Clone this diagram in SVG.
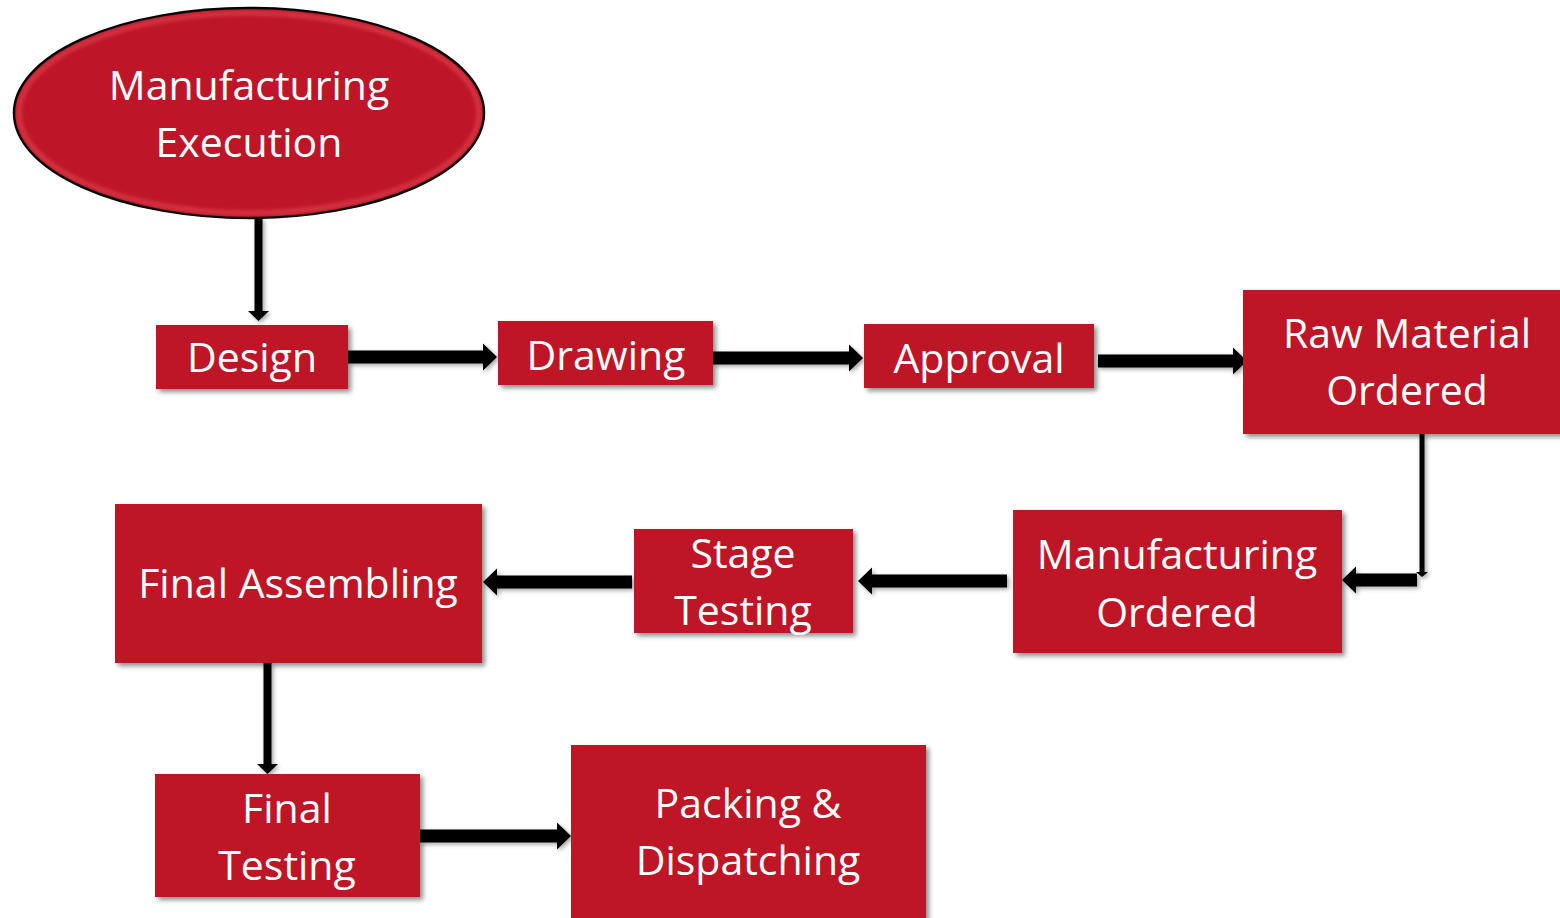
<svg xmlns="http://www.w3.org/2000/svg" width="1560" height="918" viewBox="0 0 1560 918">
<style>
.box{fill:#BE1628;filter:url(#sh);}
.t{font-family:"Open Sans","Noto Sans",sans-serif;font-size:41px;fill:#fff;text-anchor:middle;}
.thick{stroke:#000;stroke-width:13;fill:none;marker-end:url(#big);}
.vert{stroke:#000;stroke-width:8;fill:none;marker-end:url(#small);}
</style>
<defs>
<filter id="sh" x="-10%" y="-10%" width="130%" height="130%">
<feDropShadow dx="3" dy="3" stdDeviation="2.5" flood-color="#000" flood-opacity="0.45"/>
</filter>
<filter id="sh2" filterUnits="userSpaceOnUse" x="0" y="0" width="1560" height="918">
<feDropShadow dx="2" dy="2" stdDeviation="2" flood-color="#000" flood-opacity="0.35"/>
</filter>
<filter id="bl" filterUnits="userSpaceOnUse" x="0" y="0" width="600" height="300"><feGaussianBlur stdDeviation="2"/></filter>
<clipPath id="ec"><ellipse cx="249" cy="113" rx="235" ry="105"/></clipPath>
<marker id="big" markerUnits="userSpaceOnUse" markerWidth="15" markerHeight="28" refX="0" refY="13.5" orient="auto" overflow="visible">
<path d="M0,0 L14,13.5 L0,27 Z" fill="#000"/>
</marker>
<marker id="small" markerUnits="userSpaceOnUse" markerWidth="22" markerHeight="11" refX="0" refY="10.5" orient="auto" overflow="visible">
<path d="M0,0 L10,10.5 L0,21 Z" fill="#000"/>
</marker>
<marker id="tiny" markerUnits="userSpaceOnUse" markerWidth="8" markerHeight="12" refX="0" refY="6" orient="auto" overflow="visible">
<path d="M0,0 L5,6 L0,12 Z" fill="#000"/>
</marker>
</defs>
<rect width="1560" height="918" fill="#fff"/>

<g id="connectors" filter="url(#sh2)">
<path class="vert" d="M258.5,218 L258.5,311"/>
<path class="thick" d="M348,357 L483,357"/>
<path class="thick" d="M713,358 L849,358"/>
<path class="thick" d="M1098,361 L1233,361"/>
<path d="M1422,434 L1422,572" stroke="#000" stroke-width="5" fill="none" marker-end="url(#tiny)"/>
<path class="thick" d="M1417,580 L1356,580"/>
<path class="thick" d="M1007,581 L872,581"/>
<path class="thick" d="M632,582 L497,582"/>
<path class="vert" d="M267.5,663 L267.5,764"/>
<path class="thick" d="M420,836 L557,836"/>
</g>

<g id="start">
<ellipse cx="249" cy="113" rx="235" ry="105" fill="#BE1628" stroke="#000" stroke-width="2.5"/>
<g clip-path="url(#ec)">
<ellipse cx="249" cy="113" rx="230" ry="100" fill="none" stroke="#E8505C" stroke-width="4" opacity="0.7" filter="url(#bl)"/>
</g>
<text class="t" x="249" y="100">Manufacturing</text>
<text class="t" x="249" y="157">Execution</text>
</g>

<g id="design">
<rect class="box" x="156" y="325" width="192" height="64"/>
<text class="t" x="252" y="372">Design</text>
</g>

<g id="drawing">
<rect class="box" x="498" y="321" width="215" height="64"/>
<text class="t" x="606" y="370">Drawing</text>
</g>

<g id="approval">
<rect class="box" x="864" y="324" width="230" height="64"/>
<text class="t" x="979" y="373">Approval</text>
</g>

<g id="raw">
<rect class="box" x="1243" y="290" width="320" height="144"/>
<text class="t" x="1407" y="348">Raw Material</text>
<text class="t" x="1407" y="405">Ordered</text>
</g>

<g id="mfg">
<rect class="box" x="1013" y="510" width="329" height="143"/>
<text class="t" x="1177" y="569">Manufacturing</text>
<text class="t" x="1177" y="627">Ordered</text>
</g>

<g id="stage">
<rect class="box" x="634" y="529" width="219" height="104"/>
<text class="t" x="743" y="568">Stage</text>
<text class="t" x="743" y="625">Testing</text>
</g>

<g id="assembling">
<rect class="box" x="115" y="504" width="367" height="159"/>
<text class="t" x="298" y="598">Final Assembling</text>
</g>

<g id="finaltesting">
<rect class="box" x="155" y="774" width="265" height="123"/>
<text class="t" x="287" y="823">Final</text>
<text class="t" x="287" y="880">Testing</text>
</g>

<g id="packing">
<rect class="box" x="571" y="745" width="355" height="180"/>
<text class="t" x="748" y="818">Packing &amp;</text>
<text class="t" x="748" y="875">Dispatching</text>
</g>
</svg>
